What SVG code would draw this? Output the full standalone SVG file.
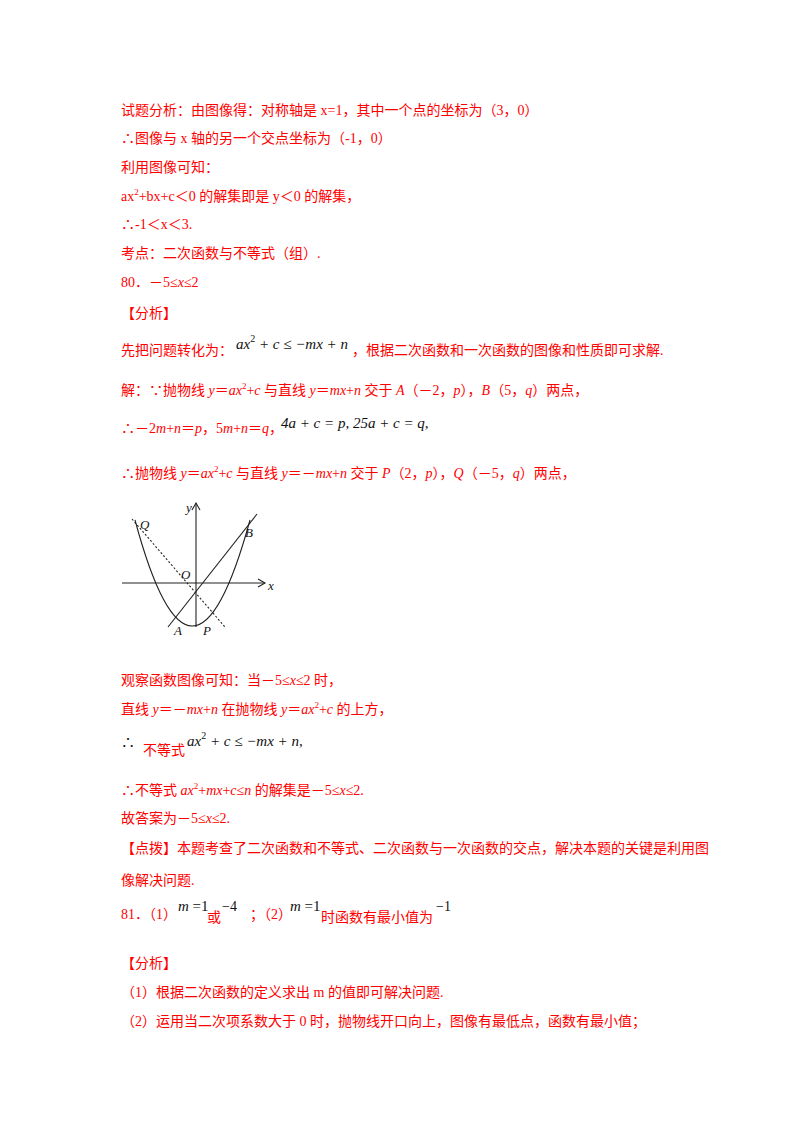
<svg xmlns="http://www.w3.org/2000/svg" width="800" height="1132" viewBox="0 0 800 1132">
<style>
text{font-family:"Liberation Serif","Noto Sans CJK SC",serif;font-size:14px;fill:#ff0000}
.k{fill:#111}
.m{font-style:italic;fill:#111;font-size:15px}
.i{font-style:italic}
.b{fill:#111;font-size:13px}
.g{fill:none;stroke:#222;stroke-width:1.1}
</style>
<rect width="800" height="1132" fill="#fff"/>
<text x="121" y="115">试题分析：由图像得：对称轴是 x=1，其中一个点的坐标为（3，0）</text>
<text x="121" y="143">∴图像与 x 轴的另一个交点坐标为（-1，0）</text>
<text x="121" y="172">利用图像可知：</text>
<text x="121" y="201">ax<tspan dy="-6" font-size="9">2</tspan><tspan dy="6">+bx+c＜0 的解集即是 y＜0 的解集，</tspan></text>
<text x="121" y="229">∴-1＜x＜3.</text>
<text x="121" y="258">考点：二次函数与不等式（组）.</text>
<text x="121" y="287">80．－5≤<tspan class="i">x</tspan>≤2</text>
<text x="121" y="318">【分析】</text>
<text x="121" y="355">先把问题转化为：</text>
<text x="236" y="349" class="m">ax<tspan dy="-7" font-size="10" font-style="normal">2</tspan><tspan dy="7"> + c ≤ −mx + n</tspan></text>
<text x="352" y="355">，根据二次函数和一次函数的图像和性质即可求解.</text>
<text x="121" y="395">解：∵抛物线 <tspan class="i">y</tspan>＝<tspan class="i">ax</tspan><tspan dy="-6" font-size="9">2</tspan><tspan dy="6">+</tspan><tspan class="i">c</tspan> 与直线 <tspan class="i">y</tspan>＝<tspan class="i">mx</tspan>+<tspan class="i">n</tspan> 交于 <tspan class="i">A</tspan>（－2，<tspan class="i">p</tspan>），<tspan class="i">B</tspan>（5，<tspan class="i">q</tspan>）两点，</text>
<text x="121" y="433">∴－2<tspan class="i">m</tspan>+<tspan class="i">n</tspan>＝<tspan class="i">p</tspan>，5<tspan class="i">m</tspan>+<tspan class="i">n</tspan>＝<tspan class="i">q</tspan>，</text>
<text x="281" y="428" class="m" font-size="17">4a + c = p, 25a + c = q,</text>
<text x="121" y="478">∴抛物线 <tspan class="i">y</tspan>＝<tspan class="i">ax</tspan><tspan dy="-6" font-size="9">2</tspan><tspan dy="6">+</tspan><tspan class="i">c</tspan> 与直线 <tspan class="i">y</tspan>＝－<tspan class="i">mx</tspan>+<tspan class="i">n</tspan> 交于 <tspan class="i">P</tspan>（2，<tspan class="i">p</tspan>），<tspan class="i">Q</tspan>（－5，<tspan class="i">q</tspan>）两点，</text>
<g id="graph">
<line class="g" x1="122" y1="583" x2="265" y2="583"/>
<path class="g" d="M258,579 L265,583 L258,587"/>
<line class="g" x1="196" y1="627" x2="196" y2="503"/>
<path class="g" d="M192,510 L196,503 L200,510"/>
<path class="g" d="M135,520 Q192,732 250,520"/>
<line class="g" x1="168" y1="627" x2="257" y2="514"/>
<line class="g" x1="132" y1="519" x2="225" y2="627" stroke-dasharray="2,2"/>
<text x="186" y="512" class="b i">y</text>
<text x="140" y="529" class="b i">Q</text>
<text x="245" y="537" class="b i">B</text>
<text x="181" y="579" class="b i">O</text>
<text x="268" y="590" class="b i">x</text>
<text x="174" y="635" class="b i">A</text>
<text x="203" y="635" class="b i">P</text>
</g>
<text x="121" y="685">观察函数图像可知：当－5≤<tspan class="i">x</tspan>≤2 时，</text>
<text x="121" y="714">直线 <tspan class="i">y</tspan>＝－<tspan class="i">mx</tspan>+<tspan class="i">n</tspan> 在抛物线 <tspan class="i">y</tspan>＝<tspan class="i">ax</tspan><tspan dy="-6" font-size="9">2</tspan><tspan dy="6">+</tspan><tspan class="i">c</tspan> 的上方，</text>
<text x="121" y="747" class="k">∴</text>
<text x="143" y="755">不等式</text>
<text x="187" y="746" class="m">ax<tspan dy="-7" font-size="10" font-style="normal">2</tspan><tspan dy="7"> + c ≤ −mx + n,</tspan></text>
<text x="121" y="795">∴不等式 <tspan class="i">ax</tspan><tspan dy="-6" font-size="9">2</tspan><tspan dy="6">+</tspan><tspan class="i">mx</tspan>+<tspan class="i">c</tspan>≤<tspan class="i">n</tspan> 的解集是－5≤<tspan class="i">x</tspan>≤2.</text>
<text x="121" y="823">故答案为－5≤<tspan class="i">x</tspan>≤2.</text>
<text x="121" y="853">【点拨】本题考查了二次函数和不等式、二次函数与一次函数的交点，解决本题的关键是利用图</text>
<text x="121" y="885">像解决问题.</text>
<text x="121" y="919">81．（1）</text>
<text x="178" y="911" class="m">m <tspan font-style="normal">=1</tspan></text>
<text x="207" y="922">或</text>
<text x="222" y="911" class="k" font-size="15">−4</text>
<text x="250" y="919">；（2）</text>
<text x="290" y="911" class="m">m <tspan font-style="normal">=1</tspan></text>
<text x="321" y="922">时函数有最小值为</text>
<text x="436" y="911" class="k" font-size="15">−1</text>
<text x="121" y="968">【分析】</text>
<text x="121" y="997">（1）根据二次函数的定义求出 m 的值即可解决问题.</text>
<text x="121" y="1026">（2）运用当二次项系数大于 0 时，抛物线开口向上，图像有最低点，函数有最小值；</text>
</svg>
